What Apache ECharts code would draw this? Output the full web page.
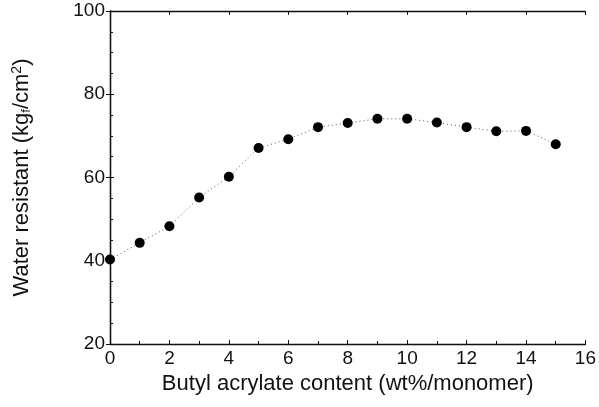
<!DOCTYPE html>
<html><head><meta charset="utf-8">
<script src="https://cdn.jsdelivr.net/npm/echarts@6/dist/echarts.min.js"></script>
<style>html,body{margin:0;padding:0;background:#fff}#c{width:599px;height:407px}</style>
</head><body><div id="c"></div>
<script>
const xValues = [0,1,2,3,4,5,6,7,8,9,10,11,12,13,14,15];
const waterResistant = [40.3,44.3,48.3,55.2,60.2,67.1,69.2,72.1,73.1,74.1,74.1,73.2,72.1,71.1,71.2,68.0];
const xTicks = [0,2,4,6,8,10,12,14,16];
const yTicks = [20,40,60,80,100];

const font = 'Liberation Sans, Arial, sans-serif';
const chart = echarts.init(document.getElementById('c'));
const axisLine = {show:true, lineStyle:{color:'#111', width:1.3}};
chart.setOption({
  animation:false,
  grid:{left:110, right:11, top:11, bottom:63},
  xAxis:[{
    type:'value', min:0, max:16, interval:2, position:'bottom',
    axisLine, axisTick:{show:true, inside:true, length:4, lineStyle:{color:'#111'}},
    minorTick:{show:true, splitNumber:2, length:3, lineStyle:{color:'#111'}},
    splitLine:{show:false},
    axisLabel:{color:'#111', fontSize:19, fontFamily:font, margin:5,
      formatter: v => xTicks.includes(v) ? String(v) : ''},
    name:'Butyl acrylate content (wt%/monomer)', nameLocation:'middle', nameGap:28,
    nameTextStyle:{color:'#111', fontSize:22, fontFamily:font}
  },{
    type:'value', min:0, max:16, interval:2, position:'top',
    axisLine, axisTick:{show:true, inside:true, length:4, lineStyle:{color:'#111'}},
    axisLabel:{show:false}, splitLine:{show:false}
  }],
  yAxis:[{
    type:'value', min:20, max:100, interval:20, position:'left',
    axisLine, axisTick:{show:true, inside:true, length:4, lineStyle:{color:'#111'}},
    minorTick:{show:true, splitNumber:4, length:3, lineStyle:{color:'#111'}},
    splitLine:{show:false},
    axisLabel:{color:'#111', fontSize:19, fontFamily:font, margin:5,
      formatter: v => yTicks.includes(v) ? String(v) : ''},
    name:'{n|Water resistant (kg}{s|f}{n|/cm}{p|2}{n|)}', nameLocation:'middle', nameGap:77,
    nameTextStyle:{color:'#111', fontSize:22, fontFamily:font,
      rich:{
        n:{fontSize:22, fontFamily:font, color:'#111'},
        s:{fontSize:13, fontFamily:font, color:'#111', verticalAlign:'bottom', padding:[9,0,0,0]},
        p:{fontSize:14, fontFamily:font, color:'#111', verticalAlign:'top', padding:[0,0,9,0]}
      }}
  },{
    type:'value', min:20, max:100, interval:20, position:'right',
    axisLine, axisTick:{show:true, inside:true, length:4, lineStyle:{color:'#111'}},
    axisLabel:{show:false}, splitLine:{show:false}
  }],
  series:[{
    type:'line',
    data: xValues.map((x,i)=>[x, waterResistant[i]]),
    symbol:'circle', symbolSize:10,
    itemStyle:{color:'#000'},
    lineStyle:{color:'#555', width:1, type:[1,3]}
  }]
});
</script></body></html>
